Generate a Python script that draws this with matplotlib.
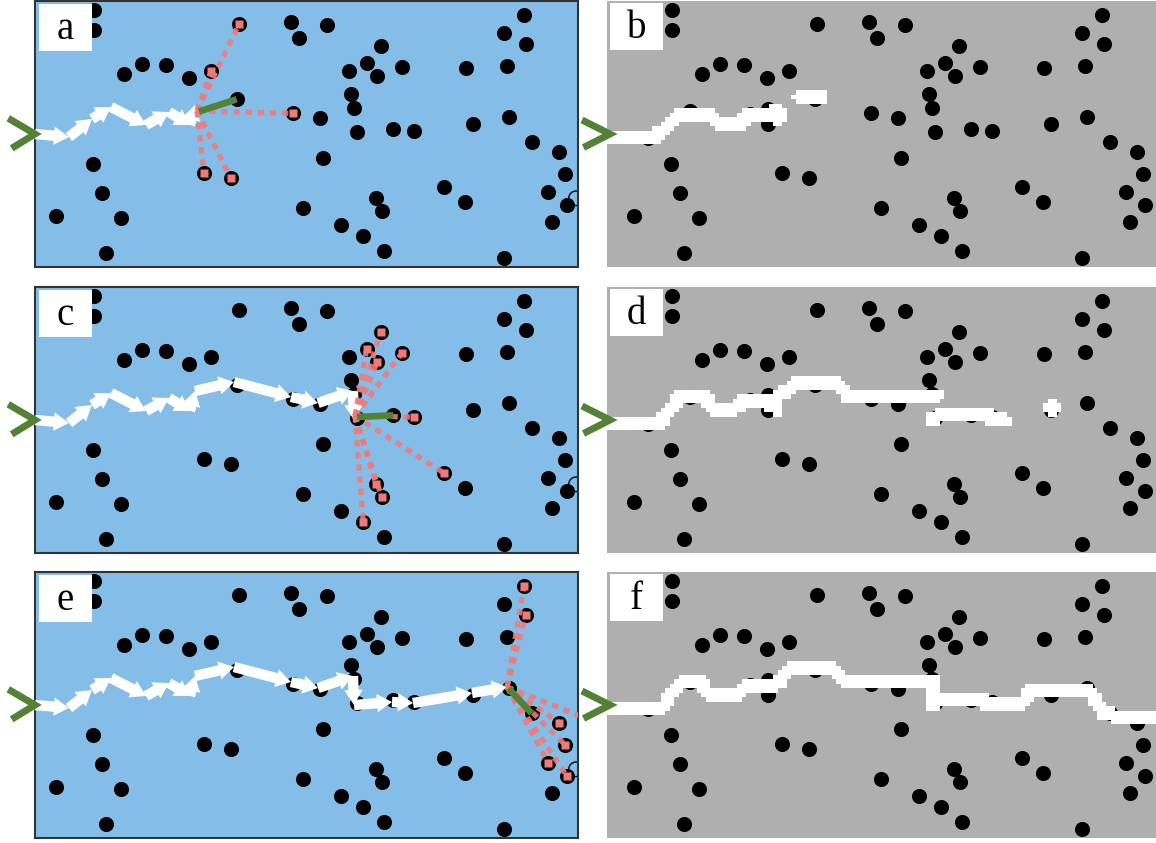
import numpy as np
import matplotlib
matplotlib.use("Agg")
import matplotlib.pyplot as plt
from matplotlib.patches import Rectangle

# ---------------- data (panel pixel coordinates, y downward) ----------------
obs_x = [59.3, 59.3, 204, 255.7, 264, 291.7, 345.7, 331.7, 314.3, 342.3, 366.7,
         89.3, 106.7, 130.7, 153.7, 176.3, 201.7, 258.3, 285, 316, 319, 321.7,
         358.3, 379.3, 57.7, 66.7, 21, 85.7, 71, 169, 195.7, 287.7, 268.3, 341,
         346.7, 306, 328.3, 349.3, 489, 469, 490.7, 431, 472.3, 437.7, 474.3,
         496.7, 524.3, 530.3, 513.3, 531.7, 517, 409.3, 430.3, 469]
obs_y = [9, 29, 23, 20.7, 36.7, 24, 44.7, 61.7, 69.7, 75, 66.3,
         73, 63.3, 64.3, 76.7, 69.7, 98.3, 112.3, 116.7, 93, 106.7, 131.3,
         128.3, 130, 163.3, 191.7, 214.7, 217, 252.3, 172.3, 176.7, 156.7, 207.3, 197.3,
         210, 224, 235, 250, 14, 32.3, 43, 67.3, 64.7, 123.3, 116.3,
         141.3, 150.7, 173, 191, 204, 221.3, 186.3, 201.3, 257.3]
hidden_x = [35, 77, 137, 155, 155]
hidden_y = [137, 110, 112.5, 122.5, 108]
ring_x = [541]
ring_y = [197.3]

# planned paths (left panels)
path_a_x = [0, 34, 57, 76, 111, 134, 155, 160]
path_a_y = [133, 136, 118, 106, 124, 111, 124, 104]
path_c_x = path_a_x + [199, 256, 283, 318, 319]
path_c_y = path_a_y + [95, 110, 116, 104, 133]
path_e_x = path_c_x + [357, 378, 437, 472]
path_e_y = path_c_y + [130, 131, 121, 115]

# sensing rays: origin and targets
ray_a_origin = (162, 110)
ray_a_tx = [204, 176.3, 258.3, 169, 195.7]
ray_a_ty = [23, 69.7, 112.3, 172.3, 176.7]
ray_c_origin = (320, 129)
ray_c_tx = [345.7, 331.7, 366.7, 342.3, 379.3, 409.3, 341, 346.7, 328.3]
ray_c_ty = [44.7, 61.7, 66.3, 75, 130, 186.3, 197.3, 210, 235]
ray_e_origin = (472, 115)
ray_e_tx = [489, 490.7, 550, 524.3, 530.3, 513.3, 531.7]
ray_e_ty = [14, 43, 146, 150.7, 173, 191, 204]

# chosen direction (green)
green_a = ([164, 201.7], [110.5, 98.3])
green_c = ([322, 358.3], [130, 128.3])
green_e = ([473.3, 496.7], [116.3, 141.3])

# occupancy-map paths (right panels)
b_main_x = [-6, 42, 69, 95, 109, 125, 135, 157, 165, 165]
b_main_y = [136.5, 136.5, 113, 113, 125, 125, 115.5, 115, 108, 120]
b_blk_x = [187, 208]
b_blk_y = [97.5, 97.5]

d_main_x = [-6, 47, 67, 92, 102, 122, 129, 152, 164.5, 164.5, 182, 227, 235, 272, 279, 323]
d_main_y = [137, 137, 111.5, 111.5, 123, 123, 116.5, 116.5, 123, 110, 98.5, 98.5, 112, 112, 108.5, 108.5]
d_seg2_x = [319, 337, 372, 379, 392]
d_seg2_y = [132, 127, 127, 133.5, 133.5]
d_blk_x = [437, 444]
d_blk_y = [121.5, 121.5]

f_main_x = [-6, 47, 67, 90, 97, 125, 132, 155, 165, 177, 221, 232, 267, 274, 321, 321,
            329, 367, 377, 407, 417, 477, 492, 512, 547]
f_main_y = [139, 139, 112, 112, 124.7, 124.7, 116, 116, 112, 98, 98, 111, 111, 109, 109, 134,
            127, 127, 134, 134, 121, 121, 142, 148, 148]

labels = ["a", "b", "c", "d", "e", "f"]

# ---------------- style ----------------
W, H = 1156, 843
BLUE = "#84BEE8"
GRAY = "#AFAFAF"
RED = "#F07A7A"
GREEN = "#548235"
PW, PH = 543, 266
rows_top = [1, 287, 572]

fig = plt.figure(figsize=(W / 100, H / 100), dpi=100)
fig.patch.set_facecolor("white")


def make_ax(x0, y0, w, h):
    return fig.add_axes([x0 / W, 1 - (y0 + h) / H, w / W, h / H])


def draw_obstacles(ax, with_hidden=False, ring=True):
    ax.scatter(obs_x, obs_y, s=118, c="black", linewidths=0, zorder=2)
    if with_hidden:
        ax.scatter(hidden_x, hidden_y, s=118, c="black", linewidths=0, zorder=2)
    if ring:
        ax.scatter(ring_x, ring_y, s=110, facecolors="none", edgecolors="black",
                   linewidths=1.0, zorder=2)


def draw_arrow_path(ax, xs, ys):
    for i in range(len(xs) - 1):
        ax.annotate("", xy=(xs[i + 1], ys[i + 1]), xytext=(xs[i], ys[i]),
                    arrowprops=dict(arrowstyle="simple,head_length=0.45,head_width=0.55,tail_width=0.31",
                                    fc="white", ec="none", lw=0, shrinkA=0, shrinkB=0,
                                    mutation_scale=24),
                    zorder=3, annotation_clip=False)


def draw_rays(ax, origin, tx, ty):
    for x, y in zip(tx, ty):
        ax.plot([origin[0], x], [origin[1], y], color=RED, lw=3.8, alpha=0.9,
                ls=(0, (1.2, 1.1)), dash_capstyle="butt", zorder=4)
        ax.plot([x], [y], marker="s", ms=5.5, color=RED, mec="none", zorder=4)


def draw_green(ax, g):
    ax.plot(g[0], g[1], color=GREEN, lw=4.8, solid_capstyle="butt", zorder=5)


def chevron(ax, xs, ys):
    ax.plot(xs, ys, color=GREEN, lw=5, solid_joinstyle="miter",
            solid_capstyle="butt", clip_on=False, zorder=6)


def label(ax, txt, bx, by):
    ax.add_patch(Rectangle((bx, by), 53, 47, facecolor="white", edgecolor="none", zorder=6))
    ax.text(bx + 26.5, by + 35, txt, family="Liberation Serif", fontsize=28,
            ha="center", va="baseline", zorder=7)


def occupancy(paths, r=7.0, cell=4.5, x0=-6, x1=543, y0=0, y1=266):
    xs = np.arange(x0 + cell / 2, x1, cell)
    ys = np.arange(y0 + cell / 2, y1, cell)
    X, Y = np.meshgrid(xs, ys)
    occ = np.zeros(X.shape, bool)
    for px, py in paths:
        for i in range(len(px) - 1):
            ax_, ay_, bx, by = px[i], py[i], px[i + 1], py[i + 1]
            dx, dy = bx - ax_, by - ay_
            L2 = dx * dx + dy * dy
            if L2 > 0:
                t = np.clip(((X - ax_) * dx + (Y - ay_) * dy) / L2, 0, 1)
            else:
                t = 0
            d = np.hypot(X - (ax_ + t * dx), Y - (ay_ + t * dy))
            occ |= d <= r
    img = np.zeros(X.shape + (4,))
    img[occ] = [1, 1, 1, 1]
    ext = (x0, x0 + len(xs) * cell, y0 + len(ys) * cell, y0)
    return img, ext


left_paths = [(path_a_x, path_a_y), (path_c_x, path_c_y), (path_e_x, path_e_y)]
left_rays = [(ray_a_origin, ray_a_tx, ray_a_ty), (ray_c_origin, ray_c_tx, ray_c_ty),
             (ray_e_origin, ray_e_tx, ray_e_ty)]
left_green = [green_a, green_c, green_e]
right_paths = [[(b_main_x, b_main_y), (b_blk_x, b_blk_y)],
               [(d_main_x, d_main_y), (d_seg2_x, d_seg2_y), (d_blk_x, d_blk_y)],
               [(f_main_x, f_main_y)]]

for r in range(3):
    top = rows_top[r]
    # ---- left (simulation) panel
    ax = make_ax(35, top, PW, PH)
    ax.set_facecolor(BLUE)
    ax.set_xlim(0, PW)
    ax.set_ylim(PH, 0)
    ax.set_xticks([])
    ax.set_yticks([])
    for s in ax.spines.values():
        s.set_color("#333333")
        s.set_linewidth(1.5)
    draw_obstacles(ax)
    draw_arrow_path(ax, *left_paths[r])
    draw_rays(ax, *left_rays[r])
    draw_green(ax, left_green[r])
    chevron(ax, [-26.7, 0, -23.3], [117.3, 133, 147.3])
    label(ax, labels[2 * r], 4, 3)

    # ---- right (occupancy map) panel
    ax2 = make_ax(607, top, 549, PH)
    ax2.set_facecolor(GRAY)
    draw_obstacles(ax2, with_hidden=True, ring=False)
    img, ext = occupancy(right_paths[r])
    ax2.imshow(img, extent=ext, interpolation="nearest", aspect="auto", zorder=3)
    ax2.set_xlim(-6, PW)
    ax2.set_ylim(PH, 0)
    ax2.set_xticks([])
    ax2.set_yticks([])
    for s in ax2.spines.values():
        s.set_visible(False)
    chevron(ax2, [-31, -3, -29.5], [119, 133, 146.5])
    label(ax2, labels[2 * r + 1], -3, 2)

fig.savefig("out.png", dpi=100, facecolor="white")
